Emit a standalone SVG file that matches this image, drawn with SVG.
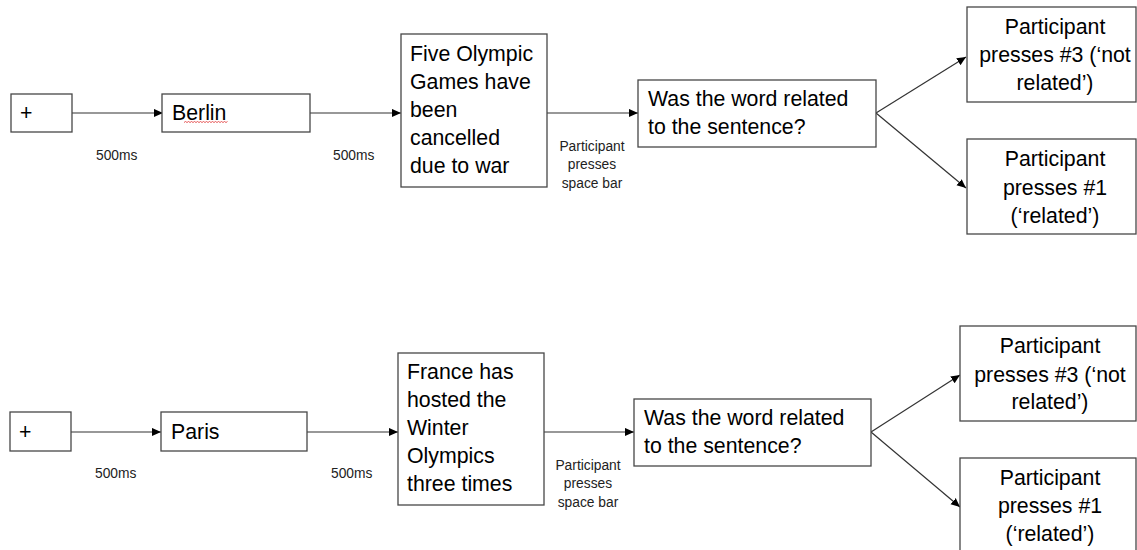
<svg xmlns="http://www.w3.org/2000/svg" width="1137" height="550" viewBox="0 0 1137 550">
<style>
.box{fill:#fff;stroke:#474747;stroke-width:1.3}
.t{font-family:"Liberation Sans",Arial,sans-serif;font-size:21.3px;fill:#000}
.s{font-family:"Liberation Sans",Arial,sans-serif;font-size:13.8px;fill:#222}
.c{text-anchor:middle}
.con line{stroke:#333;stroke-width:1.2;marker-end:url(#ah)}
</style>
<defs>
<marker id="ah" viewBox="0 0 10 10" refX="10" refY="5" markerWidth="9" markerHeight="9" markerUnits="userSpaceOnUse" orient="auto">
<path d="M0,0.5 L10,5 L0,9.5 z" fill="#000"/>
</marker>
</defs>
<rect width="1137" height="550" fill="#fff"/>

<g id="connectors" class="con">
<line x1="72" y1="113" x2="163" y2="113"/>
<line x1="310" y1="113" x2="401" y2="113"/>
<line x1="547" y1="113" x2="638" y2="113"/>
<line x1="876" y1="113" x2="966" y2="57"/>
<line x1="876" y1="113" x2="966" y2="188"/>
<line x1="71" y1="432" x2="161" y2="432"/>
<line x1="307" y1="432" x2="398" y2="432"/>
<line x1="544" y1="432" x2="634" y2="432"/>
<line x1="871" y1="432" x2="960" y2="375"/>
<line x1="871" y1="432" x2="960" y2="507"/>
</g>

<g id="labels">
<text class="s" x="96" y="160">500ms</text>
<text class="s" x="333" y="160">500ms</text>
<text class="s c" x="592" y="151">Participant</text>
<text class="s c" x="592" y="169">presses</text>
<text class="s c" x="592" y="188">space bar</text>
<text class="s" x="95" y="478">500ms</text>
<text class="s" x="331" y="478">500ms</text>
<text class="s c" x="588" y="470">Participant</text>
<text class="s c" x="588" y="488">presses</text>
<text class="s c" x="588" y="507">space bar</text>
</g>

<!-- top row -->
<g id="fix1">
<rect class="box" x="11" y="94" width="61" height="38"/>
<text class="t" x="20" y="120">+</text>
</g>
<g id="word1">
<rect class="box" x="162" y="94" width="148" height="38"/>
<text class="t" x="172" y="120">Berlin</text>
<path d="M184,122.5 l1.5,-1 l1.5,1 l1.5,-1 l1.5,1 l1.5,-1 l1.5,1 l1.5,-1 l1.5,1 l1.5,-1 l1.5,1 l1.5,-1 l1.5,1 l1.5,-1 l1.5,1 l1.5,-1 l1.5,1 l1.5,-1 l1.5,1 l1.5,-1 l1.5,1 l1.5,-1 l1.5,1 l1.5,-1 l1.5,1 l1.5,-1 l1.5,1 l1.5,-1 l1.5,1 l1.5,-1" fill="none" stroke="#e03030" stroke-width="0.8"/>
</g>
<g id="sent1">
<rect class="box" x="401" y="34" width="146" height="153"/>
<text class="t" x="410" y="61">Five Olympic</text>
<text class="t" x="410" y="89">Games have</text>
<text class="t" x="410" y="117">been</text>
<text class="t" x="410" y="145">cancelled</text>
<text class="t" x="410" y="173">due to war</text>
</g>
<g id="q1">
<rect class="box" x="638" y="80" width="238" height="67"/>
<text class="t" x="648" y="106">Was the word related</text>
<text class="t" x="648" y="134">to the sentence?</text>
</g>
<g id="r1a">
<rect class="box" x="967" y="7" width="169" height="95"/>
<text class="t c" x="1055" y="34">Participant</text>
<text class="t c" x="1055" y="62">presses #3 (‘not</text>
<text class="t c" x="1055" y="90">related’)</text>
</g>
<g id="r1b">
<rect class="box" x="967" y="139" width="169" height="95"/>
<text class="t c" x="1055" y="166">Participant</text>
<text class="t c" x="1055" y="195">presses #1</text>
<text class="t c" x="1055" y="223">(‘related’)</text>
</g>

<!-- bottom row -->
<g id="fix2">
<rect class="box" x="10" y="412" width="61" height="39"/>
<text class="t" x="19" y="439">+</text>
</g>
<g id="word2">
<rect class="box" x="161" y="412" width="146" height="39"/>
<text class="t" x="171" y="439">Paris</text>
</g>
<g id="sent2">
<rect class="box" x="398" y="353" width="146" height="152"/>
<text class="t" x="407" y="379">France has</text>
<text class="t" x="407" y="407">hosted the</text>
<text class="t" x="407" y="435">Winter</text>
<text class="t" x="407" y="463">Olympics</text>
<text class="t" x="407" y="491">three times</text>
</g>
<g id="q2">
<rect class="box" x="634" y="399" width="237" height="67"/>
<text class="t" x="644" y="425">Was the word related</text>
<text class="t" x="644" y="453">to the sentence?</text>
</g>
<g id="r2a">
<rect class="box" x="960" y="326" width="176" height="95"/>
<text class="t c" x="1050" y="353">Participant</text>
<text class="t c" x="1050" y="382">presses #3 (‘not</text>
<text class="t c" x="1050" y="409">related’)</text>
</g>
<g id="r2b">
<rect class="box" x="960" y="458" width="176" height="100"/>
<text class="t c" x="1050" y="485">Participant</text>
<text class="t c" x="1050" y="513">presses #1</text>
<text class="t c" x="1050" y="541">(‘related’)</text>
</g>
</svg>
